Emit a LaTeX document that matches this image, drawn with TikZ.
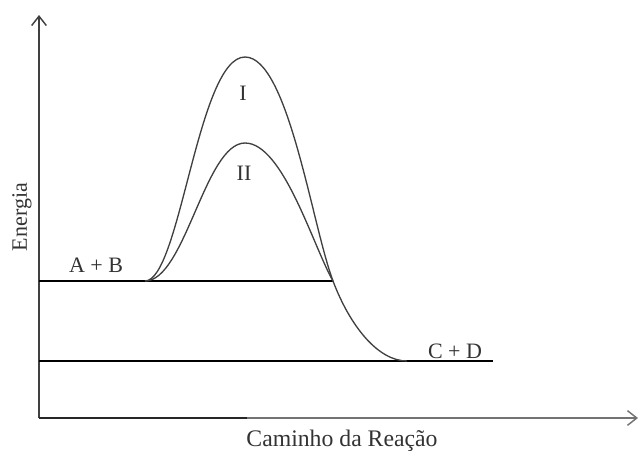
\documentclass[tikz,border=0pt]{standalone}
\usepackage{fontspec}
\setmainfont{Liberation Serif}
\usetikzlibrary{arrows.meta}
\begin{document}
\begin{tikzpicture}[x=0.75pt,y=-0.75pt,
  axisline/.style={line width=1.1pt,draw=black!75,-{Straight Barb[length=7pt,width=11pt,line width=1.1pt]}},
  level/.style={line width=1.1pt,draw=black},
  pathcurve/.style={line width=1pt,draw=black!75},
  lbl/.style={font=\fontsize{16.5}{18}\selectfont,text=black!80,inner sep=0pt}]
\useasboundingbox (0,0) rectangle (639,450);
% axes
\coordinate (o) at (39,418);
\coordinate (ytop) at (39,15);
\coordinate (xend) at (638,418);
\coordinate (xmid) at (247,418);
\draw[axisline] (o) -- (ytop);
\draw[axisline,draw=black!55] (o) -- (xend);
\draw[line width=1.1pt,draw=black!85] (o) -- (xmid);
% levels
\coordinate (abL) at (39,281);
\coordinate (abR) at (333,281);
\coordinate (cdL) at (39,361);
\coordinate (cdR) at (493,361);
\draw[level] (abL) -- (abR);
\draw[level] (cdL) -- (cdR);
% curves
\coordinate (s) at (145,281);
\coordinate (pI) at (245,57);
\coordinate (pII) at (245,143);
\coordinate (m) at (333,281);
\coordinate (e) at (407,361);
\draw[pathcurve] (s) .. controls (180,281) and (198,57) .. (pI)
  .. controls (288,57) and (312,225) .. (m)
  .. controls (350,326) and (378,361) .. (e);
\draw[pathcurve] (s) .. controls (185,281) and (205,143) .. (pII)
  .. controls (283,143) and (313,246) .. (m);
% labels
\node[lbl,anchor=base] (lI) at (243,100) {I};
\node[lbl,anchor=base] (lII) at (244,180) {II};
\node[lbl,anchor=base] (lab) at (96,272) {A + B};
\node[lbl,anchor=base] (lcd) at (455,358) {C + D};
\node[lbl,anchor=base,font=\fontsize{17.8}{19}\selectfont] (lx) at (342,446) {Caminho da Reação};
\node[lbl,rotate=90] (ly) at (22,217) {Energia};
\end{tikzpicture}
\end{document}
